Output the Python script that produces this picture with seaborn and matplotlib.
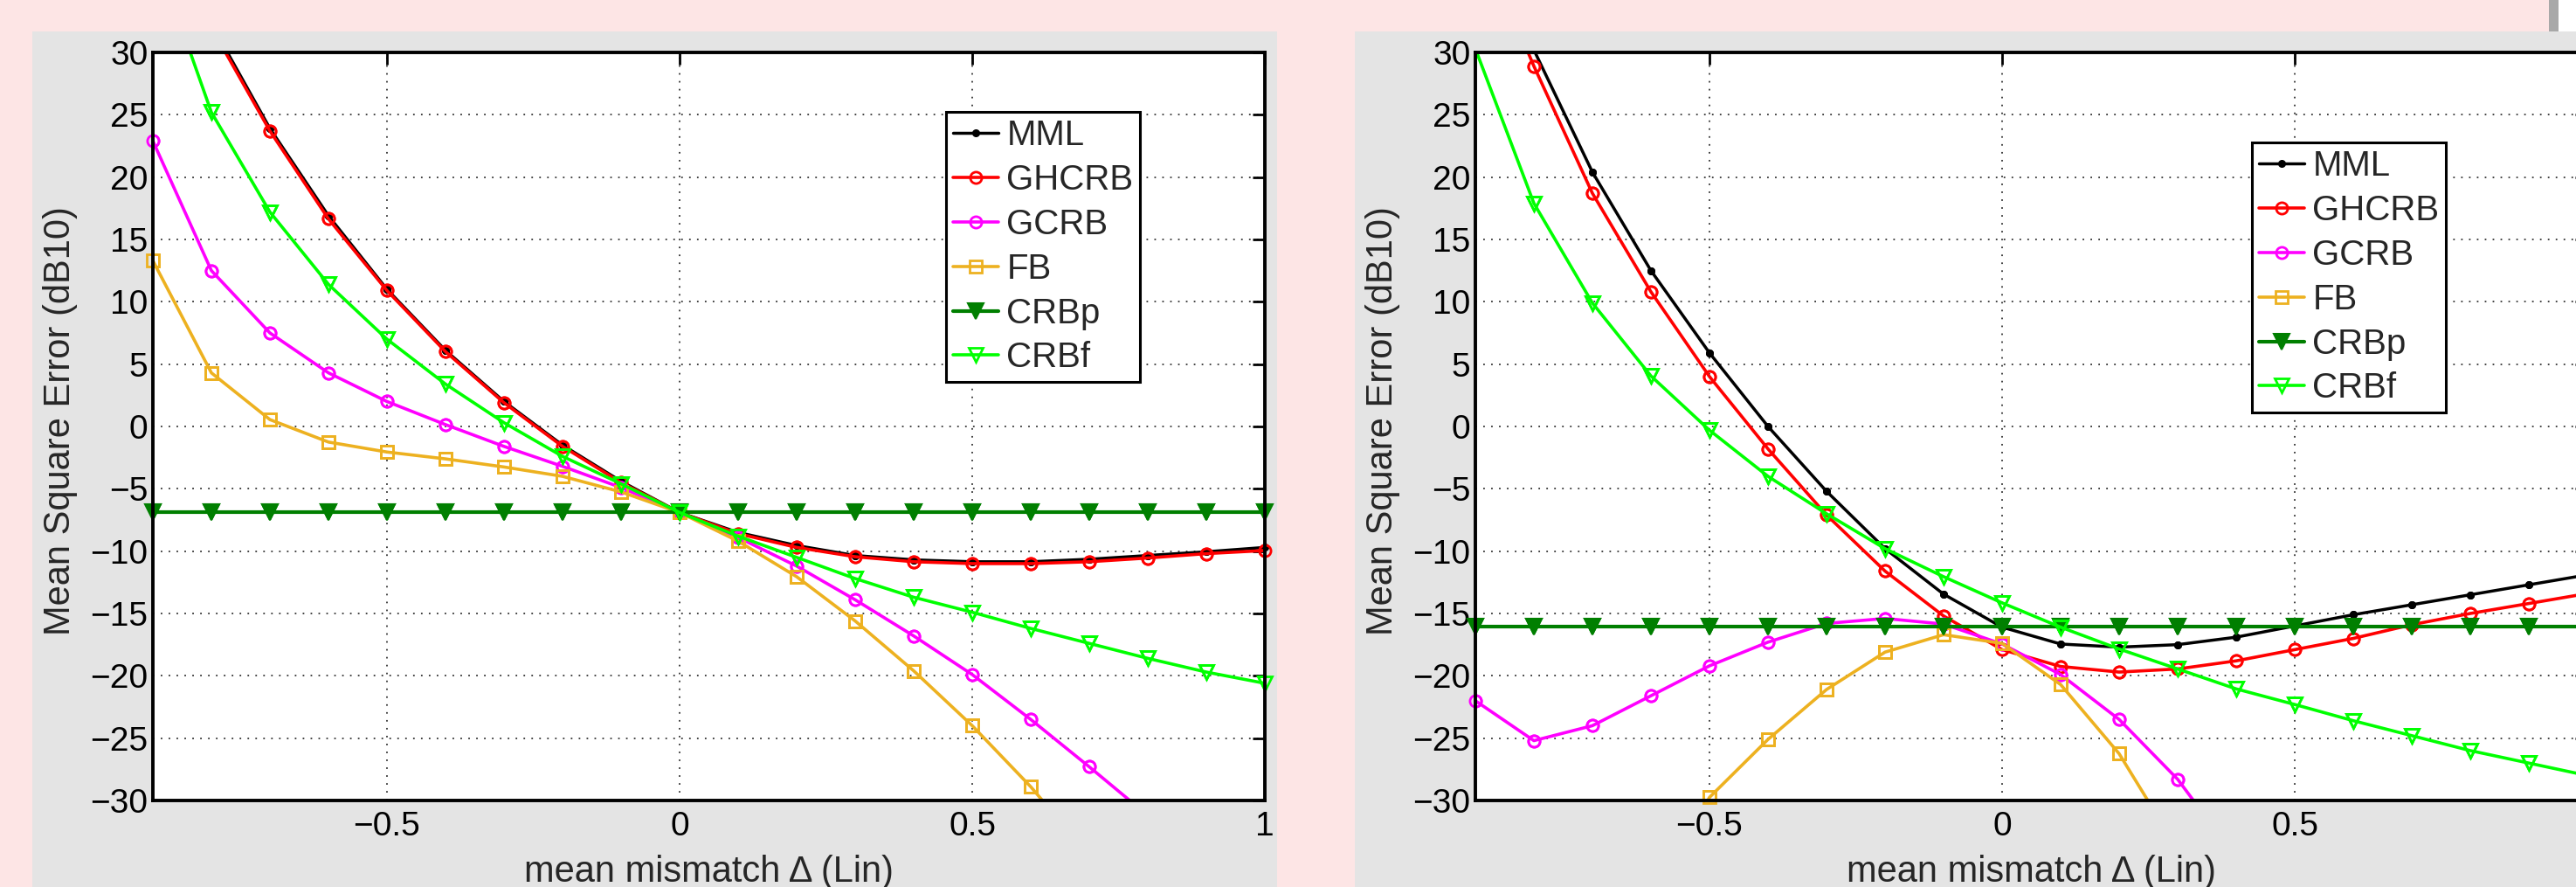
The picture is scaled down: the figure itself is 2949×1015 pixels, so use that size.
import matplotlib
matplotlib.use("Agg")
import matplotlib.pyplot as plt
from matplotlib.patches import Rectangle
import seaborn as sns

# mismatch grid shared by both windows
delta = [-0.9, -0.8, -0.7, -0.6, -0.5, -0.4, -0.3, -0.2, -0.1, 0.0,
         0.1, 0.2, 0.3, 0.4, 0.5, 0.6, 0.7, 0.8, 0.9, 1.0]
series_names = ["MML", "GHCRB", "GCRB", "FB", "CRBp", "CRBf"]
xtick_vals = [-0.5, 0, 0.5, 1]
xtick_labels = ["\u22120.5", "0", "0.5", "1"]
ytick_vals = [-30, -25, -20, -15, -10, -5, 0, 5, 10, 15, 20, 25, 30]
ytick_labels = ["\u221230", "\u221225", "\u221220", "\u221215", "\u221210", "\u22125",
                "0", "5", "10", "15", "20", "25", "30"]

# left window (MSE in dB)
mml_a = [42.5, 32.3, 23.9, 16.9, 11.0, 6.1, 2.0, -1.5, -4.4, -6.9,
         -8.5, -9.55, -10.35, -10.7, -10.85, -10.85, -10.65, -10.35, -10.05, -9.7]
ghcrb_a = [42.0, 32.0, 23.7, 16.65, 10.9, 6.0, 1.9, -1.6, -4.5, -6.9,
           -8.6, -9.7, -10.45, -10.85, -11.0, -11.0, -10.85, -10.55, -10.2, -9.95]
gcrb_a = [22.9, 12.5, 7.5, 4.3, 2.0, 0.15, -1.6, -3.2, -4.9, -6.9,
          -8.9, -11.2, -13.9, -16.8, -19.9, -23.5, -27.3, -31.2, -35.2, -39.3]
fb_a = [13.3, 4.3, 0.55, -1.25, -2.05, -2.6, -3.25, -4.0, -5.25, -6.9,
        -9.2, -12.05, -15.6, -19.6, -24.0, -28.9, -34.4, -40.0, -45.6, -51.2]
crbp_a = [-6.9, -6.9, -6.9, -6.9, -6.9, -6.9, -6.9, -6.9, -6.9, -6.9,
          -6.9, -6.9, -6.9, -6.9, -6.9, -6.9, -6.9, -6.9, -6.9, -6.9]
crbf_a = [38.5, 25.2, 17.2, 11.4, 7.0, 3.4, 0.3, -2.4, -4.6, -6.9,
          -8.8, -10.5, -12.2, -13.7, -14.9, -16.2, -17.4, -18.6, -19.7, -20.6]

# right window (MSE in dB)
mml_b = [41.0, 30.2, 20.4, 12.5, 5.9, 0.0, -5.2, -9.8, -13.45, -16.1,
         -17.45, -17.7, -17.5, -16.9, -16.0, -15.1, -14.3, -13.5, -12.7, -11.9]
ghcrb_b = [40.0, 28.9, 18.7, 10.8, 4.0, -1.8, -7.1, -11.6, -15.2, -17.9,
           -19.25, -19.7, -19.45, -18.8, -17.9, -17.0, -15.9, -15.0, -14.2, -13.4]
gcrb_b = [-22.0, -25.2, -24.0, -21.6, -19.2, -17.3, -15.8, -15.4, -15.85, -17.45,
          -19.9, -23.5, -28.3, -34.6, -41.0, -47.0, -53.0, -59.0, -65.0, -71.0]
fb_b = [-60.0, -52.0, -45.0, -38.0, -29.75, -25.1, -21.1, -18.1, -16.7, -17.4,
        -20.7, -26.25, -33.9, -41.0, -48.0, -55.0, -62.0, -69.0, -76.0, -83.0]
crbp_b = [-16.05, -16.05, -16.05, -16.05, -16.05, -16.05, -16.05, -16.05, -16.05, -16.05,
          -16.05, -16.05, -16.05, -16.05, -16.05, -16.05, -16.05, -16.05, -16.05, -16.05]
crbf_b = [30.3, 17.9, 9.9, 4.05, -0.3, -4.0, -7.0, -9.8, -12.05, -14.15,
          -16.1, -17.85, -19.45, -21.05, -22.3, -23.6, -24.8, -26.0, -27.0, -28.0]

styles = {
    "MML":   dict(color="#000000", lw=2.5, marker=".", ms=10, mfc="#000000", mew=1.5),
    "GHCRB": dict(color="#ff0000", lw=2.6, marker="o", ms=9.5, mfc="none", mew=2.0),
    "GCRB":  dict(color="#ff00ff", lw=2.6, marker="o", ms=9.5, mfc="none", mew=2.0),
    "FB":    dict(color="#edb120", lw=2.6, marker="s", ms=9.5, mfc="none", mew=2.0),
    "CRBp":  dict(color="#007f00", lw=3.0, marker="v", ms=13, mfc="#007f00", mew=1.5),
    "CRBf":  dict(color="#00ff00", lw=2.6, marker="v", ms=11, mfc="none", mew=2.0),
}

sns.set_style("white")
plt.rcParams["font.family"] = ["Liberation Sans", "DejaVu Sans"]
plt.rcParams["axes.unicode_minus"] = True

W, H = 2949, 1015
fig = plt.figure(figsize=(W / 100, H / 100), dpi=100)
fig.patch.set_facecolor("#fde5e5")


def px_rect(x0, y0, x1, y1, color):
    # rectangle given in screen pixels (origin top-left)
    fig.add_artist(Rectangle((x0 / W, 1 - y1 / H), (x1 - x0) / W, (y1 - y0) / H,
                             transform=fig.transFigure, facecolor=color,
                             edgecolor="none", zorder=-10))


# window backgrounds of the two screenshots
px_rect(37, 36, 1462, H, "#e4e4e4")
px_rect(1551, 36, W, H, "#e4e4e4")
px_rect(2918, 0, 2929, 36, "#a8a8a8")
px_rect(2929, 0, W, 36, "#ffffff")


def draw_panel(ax, curves, leg_xy):
    ax.set_facecolor("white")
    for name, vals in zip(series_names, curves):
        st = styles[name]
        sns.lineplot(x=delta, y=vals, ax=ax, label=name, color=st["color"],
                     linewidth=st["lw"], marker=st["marker"], markersize=st["ms"],
                     markerfacecolor=st["mfc"], markeredgecolor=st["color"],
                     markeredgewidth=st["mew"])
        # markers on the box edge are drawn whole, as in MATLAB
        xs = [x for x, v in zip(delta, vals) if -30 <= v <= 30]
        ys = [v for v in vals if -30 <= v <= 30]
        ax.plot(xs, ys, linestyle="none", marker=st["marker"], markersize=st["ms"],
                markerfacecolor=st["mfc"], markeredgecolor=st["color"],
                markeredgewidth=st["mew"], clip_on=False)

    ax.set_xlim(-0.9, 1.0)
    ax.set_ylim(-30, 30)
    ax.set_xticks(xtick_vals)
    ax.set_xticklabels(xtick_labels)
    ax.set_yticks(ytick_vals)
    ax.set_yticklabels(ytick_labels)
    ax.grid(True, linestyle=(0, (1, 4)), linewidth=1.3, color="#333333")
    ax.set_axisbelow(True)
    ax.tick_params(direction="in", length=10, width=2, top=True, right=True,
                   labelsize=28, colors="black")
    ax.tick_params(axis="x", pad=9)
    ax.tick_params(axis="y", pad=4)
    for sp in ax.spines.values():
        sp.set_linewidth(2.8)
        sp.set_color("black")
        sp.set_visible(True)

    ax.set_xlabel("mean mismatch \u0394 (Lin)", fontsize=30)
    ax.xaxis.set_label_coords(0.5, -0.072)
    ax.set_ylabel("Mean Square Error (dB10)", fontsize=30)
    ax.yaxis.set_label_coords(-0.0676, 0.507)

    leg = ax.legend(loc="upper left", bbox_to_anchor=leg_xy, bbox_transform=fig.transFigure,
                    borderaxespad=0, fontsize=29, frameon=True, fancybox=False,
                    shadow=False, framealpha=1, edgecolor="black", handlelength=1.3,
                    handletextpad=0.22, labelspacing=0.32, borderpad=0.2)
    leg.get_frame().set_linewidth(2.2)


ax_a = fig.add_axes([175 / W, 1 - 916 / H, 1273 / W, 856 / H])
ax_b = fig.add_axes([1689 / W, 1 - 916 / H, 1273 / W, 856 / H])

draw_panel(ax_a, [mml_a, ghcrb_a, gcrb_a, fb_a, crbp_a, crbf_a], (1083 / W, 1 - 128 / H))
draw_panel(ax_b, [mml_b, ghcrb_b, gcrb_b, fb_b, crbp_b, crbf_b], (2578 / W, 1 - 163 / H))

# the right window is cropped by the screenshot, its "1" label lies past the edge
ax_b.get_xticklabels()[-1].set_visible(False)

fig.savefig("out.png", dpi=100, facecolor=fig.get_facecolor())
